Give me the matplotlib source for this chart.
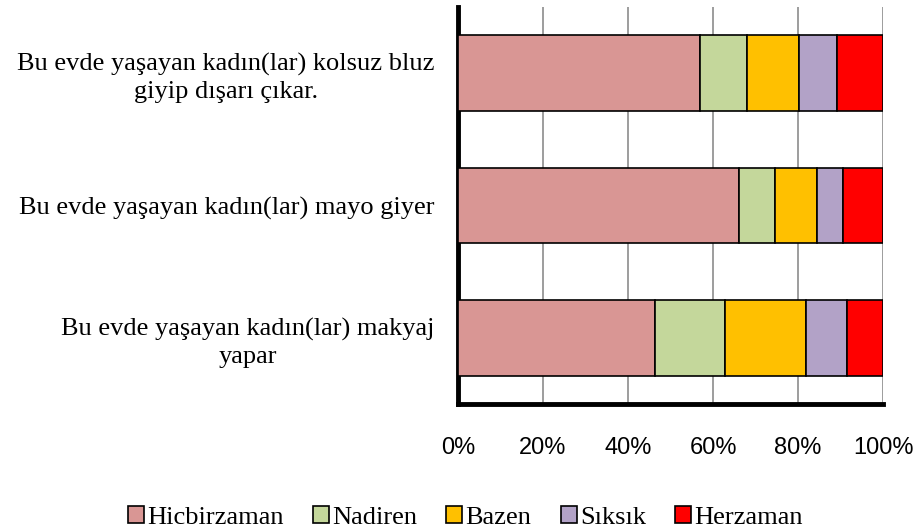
import numpy as np
import matplotlib
matplotlib.use("Agg")
import matplotlib.pyplot as plt

# sorular (yukaridan asagiya)
sorular = ["Bu evde yaşayan kadın(lar) kolsuz bluz\ngiyip dışarı çıkar.",
           "Bu evde yaşayan kadın(lar) mayo giyer",
           "Bu evde yaşayan kadın(lar) makyaj\nyapar"]
kategoriler = ["Hicbirzaman", "Nadiren", "Bazen", "Sıksık", "Herzaman"]
renkler = ["#d99694", "#c4d79b", "#ffc000", "#b2a2c7", "#ff0000"]

# yuzdeler (sorular sirasiyla)
hicbirzaman = [56.9, 66.1, 46.3]
nadiren = [11.1, 8.6, 16.5]
bazen = [12.3, 9.7, 19.1]
siksik = [8.9, 6.3, 9.6]
herzaman = [10.8, 9.3, 8.5]
degerler = [hicbirzaman, nadiren, bazen, siksik, herzaman]

fig = plt.figure(figsize=(9.16, 5.31), dpi=100)
ax = fig.add_axes([0.5, 0.239, 0.464, 0.748])

y = np.arange(len(sorular))
sol = np.zeros(len(sorular))
for ad, v, c in zip(kategoriler, degerler, renkler):
    ax.barh(y, v, left=sol, height=0.57, color=c, edgecolor="black",
            linewidth=1.2, label=ad, zorder=3)
    sol += np.array(v)

ax.set_xlim(0, 100)
ax.set_ylim(len(sorular) - 0.5, -0.5)
ax.set_xticks([0, 20, 40, 60, 80, 100])
ax.set_xticklabels(["0%", "20%", "40%", "60%", "80%", "100%"],
                   family="Liberation Sans", fontsize=17)
ax.set_yticks(y)
ax.set_yticklabels(sorular, family="Liberation Serif", fontsize=19,
                   ha="right", multialignment="center", linespacing=1.3)
ax.tick_params(axis="y", length=0, pad=17)
ax.tick_params(axis="x", length=0, pad=24)
ax.grid(axis="x", color="#8c8c8c", linewidth=1.2, zorder=0)

for s in ["top", "right"]:
    ax.spines[s].set_visible(False)
for s in ["left", "bottom"]:
    ax.spines[s].set_linewidth(3.5)
    ax.spines[s].set_color("black")

fig.legend(loc="lower center", bbox_to_anchor=(0.508, -0.041), ncol=5,
           frameon=False, prop={"family": "Liberation Serif", "size": 19},
           handlelength=0.6, handleheight=0.6, handletextpad=0.12,
           columnspacing=1.12)

fig.savefig("out.png", dpi=100)
